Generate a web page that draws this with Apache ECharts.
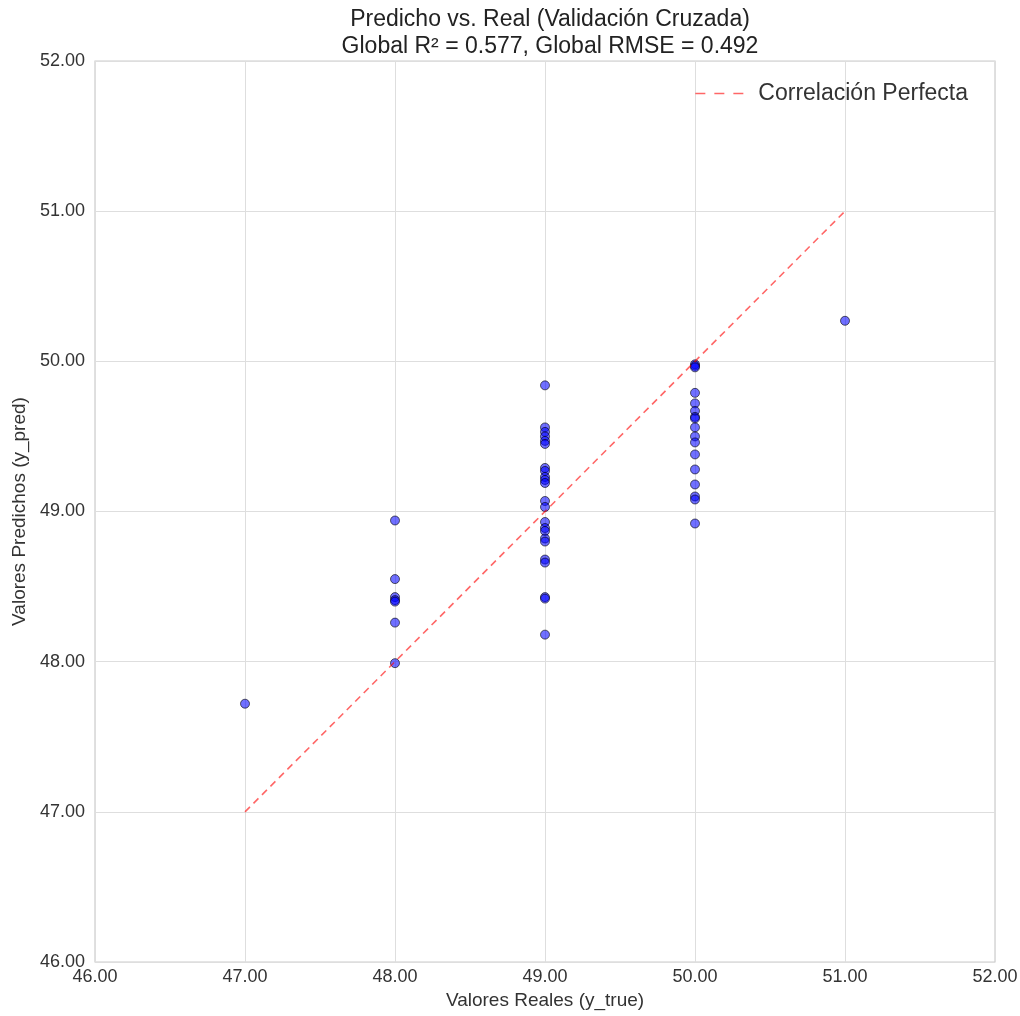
<!DOCTYPE html>
<html>
<head>
<meta charset="utf-8">
<script src="https://cdn.jsdelivr.net/npm/echarts@6/dist/echarts.min.js"></script>
<style>
html, body { margin: 0; padding: 0; background: #fff; }
#chart { width: 1020px; height: 1016px; }
</style>
</head>
<body>
<div id="chart"></div>
<script>
// valores
const realValues = [
  47,
  48, 48, 48, 48, 48, 48, 48,
  49, 49, 49, 49, 49, 49, 49, 49, 49, 49, 49, 49, 49, 49, 49, 49, 49, 49, 49, 49, 49, 49, 49,
  50, 50, 50, 50, 50, 50, 50, 50, 50, 50, 50, 50, 50, 50, 50, 50, 50,
  51
];
const predValues = [
  47.72,
  48.94, 48.55, 48.43, 48.41, 48.40, 48.26, 47.99,
  49.84, 49.56, 49.53, 49.50, 49.47, 49.45, 49.29, 49.27, 49.23, 49.21, 49.19, 49.07, 49.03,
  48.93, 48.89, 48.87, 48.82, 48.80, 48.68, 48.66, 48.43, 48.42, 48.18,
  49.98, 49.97, 49.96, 49.79, 49.72, 49.67, 49.63, 49.62, 49.56, 49.50, 49.46, 49.38, 49.28,
  49.18, 49.10, 49.08, 48.92,
  50.27
];
const perfectLine = [[47, 47], [51, 51]];
const axisMin = 46, axisMax = 52;

const points = realValues.map((v, i) => [v, predValues[i]]);

const font = "Liberation Sans";
const chart = echarts.init(document.getElementById("chart"));

const axisBase = {
  type: "value",
  min: axisMin,
  max: axisMax,
  interval: 1,
  axisLine: { show: false },
  axisTick: { show: false },
  splitLine: { show: true, lineStyle: { color: "#dedede", width: 1 } },
  nameLocation: "middle",
  nameTextStyle: { fontFamily: font, fontSize: 19, color: "#333" },
  axisLabel: {
    fontFamily: font, fontSize: 18, color: "#333",
    formatter: v => v.toFixed(2)
  }
};

chart.setOption({
  backgroundColor: "#fff",
  animation: false,
  title: {
    text: "Predicho vs. Real (Validación Cruzada)\nGlobal R² = 0.577, Global RMSE = 0.492",
    left: 545,
    top: 1,
    textAlign: "center",
    textStyle: { fontFamily: font, fontSize: 23, fontWeight: "normal", color: "#222", lineHeight: 27 }
  },
  legend: {
    data: ["Correlación Perfecta"],
    right: 47,
    top: 77,
    itemWidth: 48,
    itemHeight: 10,
    itemStyle: { opacity: 0 },
    lineStyle: { type: [10, 9], width: 1.6 },
    textStyle: { fontFamily: font, fontSize: 23, color: "#333", padding: [0, 0, 0, 10] }
  },
  grid: {
    left: 95, top: 61, width: 900, height: 901,
    outerBoundsMode: "none",
    show: true, borderColor: "#cccccc", borderWidth: 1.2
  },
  xAxis: Object.assign({}, axisBase, {
    name: "Valores Reales (y_true)",
    nameGap: 29,
    axisLabel: Object.assign({}, axisBase.axisLabel, { margin: 6 })
  }),
  yAxis: Object.assign({}, axisBase, {
    name: "Valores Predichos (y_pred)",
    nameGap: 66,
    axisLabel: Object.assign({}, axisBase.axisLabel, { margin: 10 })
  }),
  series: [
    {
      name: "Correlación Perfecta",
      type: "line",
      data: perfectLine,
      symbol: "none",
      lineStyle: { color: "rgba(255,0,0,0.6)", width: 1.6, type: [7, 5] },
      itemStyle: { color: "rgba(255,0,0,0.6)" },
      z: 3
    },
    {
      name: "pred",
      type: "scatter",
      data: points,
      symbolSize: 9,
      itemStyle: { color: "rgba(0,0,255,0.7)", borderColor: "rgba(0,0,0,0.75)", borderWidth: 1 },
      z: 2
    }
  ]
});
</script>
</body>
</html>
